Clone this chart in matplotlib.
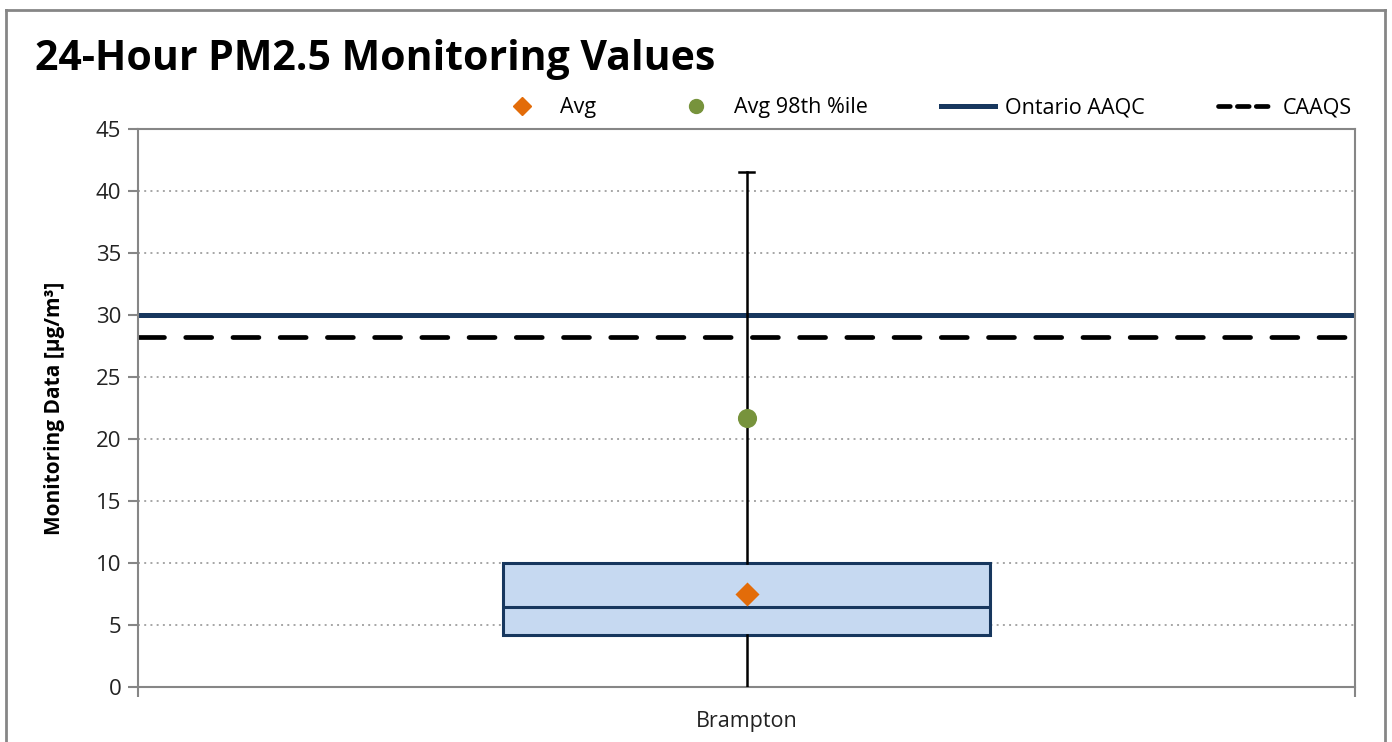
import matplotlib
matplotlib.use("Agg")
import matplotlib.pyplot as plt
from matplotlib.lines import Line2D

# data
stations = ["Brampton"]
whisker_low = [0.0]
q1 = [4.2]
median = [6.45]
q3 = [10.0]
whisker_high = [41.5]
avg = [7.5]
avg_98th = [21.7]
ontario_aaqc = 30.0
caaqs = 28.2
yticks = [0, 5, 10, 15, 20, 25, 30, 35, 40, 45]

plt.rcParams["font.family"] = ["Open Sans", "DejaVu Sans"]

navy = "#17375E"
box_fill = "#C6D9F1"
orange = "#E36C09"
green = "#77933C"
gray = "#868686"

fig = plt.figure(figsize=(13.92, 7.42), dpi=100)
ax = fig.add_axes([138 / 1392, 1 - 687 / 742, (1355 - 138) / 1392, (687 - 129) / 742])

positions = list(range(1, len(stations) + 1))
stats = []
for i, name in enumerate(stations):
    stats.append({
        "label": name,
        "whislo": whisker_low[i],
        "q1": q1[i],
        "med": median[i],
        "q3": q3[i],
        "whishi": whisker_high[i],
    })

bp = ax.bxp(
    stats,
    positions=positions,
    widths=0.4,
    capwidths=0.012,
    showfliers=False,
    patch_artist=True,
    boxprops=dict(facecolor=box_fill, edgecolor=navy, linewidth=2.2),
    medianprops=dict(color=navy, linewidth=2.2),
    whiskerprops=dict(color="black", linewidth=1.8),
    capprops=dict(color="black", linewidth=1.8),
    zorder=3,
)
# lower caps sit on the axis and are not shown in the original
for cap in bp["caps"][0::2]:
    cap.set_visible(False)

ax.axhline(ontario_aaqc, color=navy, linewidth=3.6, zorder=2)
ax.axhline(caaqs, color="black", linewidth=3.4, linestyle=(0, (5.5, 4.5)),
           dash_capstyle="round", zorder=2)

ax.scatter(positions, avg, marker="D", s=150, color=orange, zorder=5, linewidths=0)
ax.scatter(positions, avg_98th, marker="o", s=190, color=green, zorder=5, linewidths=0)

ax.set_xlim(0.5, len(stations) + 0.5)
ax.set_ylim(0, 45)
ax.set_yticks(yticks)
ax.set_xticks(positions)
ax.set_xticklabels(stations, fontsize=15.5)
ax.set_xticks([0.5, len(stations) + 0.5], minor=True)
ax.tick_params(axis="x", which="major", length=0, pad=17, colors="#222222")
ax.tick_params(axis="x", which="minor", length=7, width=1.5, color=gray, direction="out")
ax.tick_params(axis="y", length=7, width=1.5, color=gray, direction="out",
               labelsize=16, pad=5, labelcolor="#222222")

for y in yticks[1:-1]:
    ax.axhline(y, color="#A6A6A6", linewidth=1.4, linestyle=(0, (1, 2.2)), zorder=1)

for s in ax.spines.values():
    s.set_color(gray)
    s.set_linewidth(1.5)

ax.set_ylabel("Monitoring Data [µg/m³]", fontsize=15, fontweight="bold")
ax.yaxis.set_label_coords((65 - 138) / 1217, 0.5)

fig.text(35 / 1392, 1 - 60 / 742, "24-Hour PM2.5 Monitoring Values",
         fontsize=29.5, fontweight="bold", va="center", ha="left")

handles = [
    Line2D([], [], marker="D", color=orange, linestyle="none", markersize=9),
    Line2D([], [], marker="o", color=green, linestyle="none", markersize=10),
    Line2D([], [], color=navy, linewidth=3.6),
    Line2D([], [], color="black", linewidth=3.4, linestyle=(0, (2.5, 1.5)),
           dash_capstyle="round"),
]
labels = ["Avg", "Avg 98th %ile", "Ontario AAQC", "CAAQS"]
fig.legend(handles, labels, loc="center right", bbox_to_anchor=(1352 / 1392, 1 - 108 / 742),
           ncol=4, frameon=False, fontsize=15.5, handlelength=2.5, handletextpad=0.5,
           columnspacing=3.4, borderaxespad=0, borderpad=0)

# outer chart border
for xs, ys in [((6 / 1392, 6 / 1392), (0, 1 - 10 / 742)),
               ((6 / 1392, 1385 / 1392), (1 - 10 / 742, 1 - 10 / 742)),
               ((1385 / 1392, 1385 / 1392), (1 - 10 / 742, 0))]:
    fig.add_artist(Line2D(xs, ys, color=gray, linewidth=2, transform=fig.transFigure))

fig.savefig("out.png", dpi=100)
